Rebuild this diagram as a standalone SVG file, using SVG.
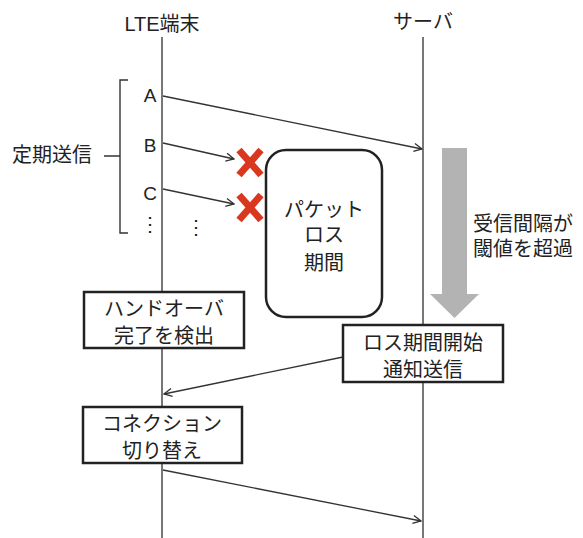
<svg xmlns="http://www.w3.org/2000/svg" width="583" height="538" viewBox="0 0 583 538">
<defs>
<marker id="ah" markerWidth="10" markerHeight="10" refX="9" refY="5" orient="auto" markerUnits="userSpaceOnUse">
<path d="M1,1 L9,5 L1,9" fill="none" stroke="#333" stroke-width="1.3"/>
</marker>
</defs>
<style>
text{font-family:"Liberation Sans","Noto Sans CJK JP",sans-serif;font-size:20px;fill:#222}
.c{text-anchor:middle}
.life{stroke:#555;stroke-width:1.6;fill:none}
.msg{stroke:#333;stroke-width:1.3;fill:none;marker-end:url(#ah)}
.box{fill:#fff;stroke:#222;stroke-width:2.5}
.x{stroke:#d9381e;stroke-width:7;stroke-linecap:butt}
</style>
<rect width="583" height="538" fill="#fff"/>
<g id="lifelines">
<line class="life" x1="162" y1="37" x2="162" y2="538"/>
<line class="life" x1="423" y1="37" x2="423" y2="538"/>
</g>
<g id="lte-label"><text class="c" x="162" y="31">LTE端末</text></g>
<g id="server-label"><text class="c" x="423" y="29">サーバ</text></g>
<g id="periodic">
<path d="M128,80 H120 V233 H128 M104,156 H120" fill="none" stroke="#333" stroke-width="1.4"/>
<text x="12" y="162">定期送信</text>
<text class="c" x="150" y="102" style="font-size:19px">A</text>
<text class="c" x="150" y="152" style="font-size:19px">B</text>
<text class="c" x="150" y="200" style="font-size:19px">C</text>
<text class="c" x="150" y="231">⋮</text>
<text class="c" x="196" y="234">⋮</text>
</g>
<g id="connectors">
<line class="msg" x1="163" y1="96" x2="422" y2="149"/>
<line class="msg" x1="163" y1="143" x2="234" y2="159"/>
<line class="msg" x1="163" y1="189" x2="234" y2="204"/>
<line class="msg" x1="343" y1="357" x2="164" y2="394"/>
<line class="msg" x1="163" y1="470" x2="421" y2="521"/>
</g>
<g id="loss-x1">
<line class="x" x1="239" y1="150" x2="261" y2="175"/>
<line class="x" x1="261" y1="150" x2="239" y2="175"/>
</g>
<g id="loss-x2">
<line class="x" x1="239" y1="195" x2="261" y2="220"/>
<line class="x" x1="261" y1="195" x2="239" y2="220"/>
</g>
<g id="loss-period">
<rect x="266" y="150" width="116" height="167" rx="20" fill="#fff" stroke="#222" stroke-width="2.5"/>
<text class="c" x="324" y="217">パケット</text>
<text class="c" x="324" y="242">ロス</text>
<text class="c" x="324" y="270">期間</text>
</g>
<g id="threshold">
<polygon points="442,148 467,148 467,294 479,294 454.5,318 430,294 442,294" fill="#b3b3b3"/>
<text x="473" y="231">受信間隔が</text>
<text x="473" y="256">閾値を超過</text>
</g>
<g id="handover">
<rect class="box" x="84" y="292" width="160" height="56"/>
<text class="c" x="164" y="316">ハンドオーバ</text>
<text class="c" x="164" y="343">完了を検出</text>
</g>
<g id="loss-notify">
<rect class="box" x="343" y="325" width="160" height="57"/>
<text class="c" x="423" y="350">ロス期間開始</text>
<text class="c" x="423" y="377">通知送信</text>
</g>
<g id="switch">
<rect class="box" x="83" y="407" width="159" height="56"/>
<text class="c" x="162" y="431">コネクション</text>
<text class="c" x="162" y="458">切り替え</text>
</g>
</svg>
